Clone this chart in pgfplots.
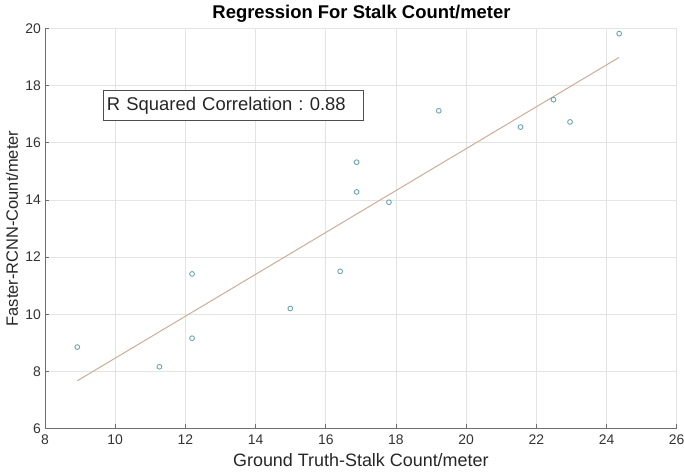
\documentclass[border=0pt]{standalone}
\usepackage{pgfplots}
\pgfplotsset{compat=1.18}
\usepackage{fontspec}
\setmainfont{Liberation Sans}
\definecolor{markcol}{RGB}{110,165,175}
\definecolor{fitcol}{RGB}{205,172,152}
\definecolor{gridcol}{RGB}{228,228,228}
\definecolor{axcol}{RGB}{110,110,110}

\begin{document}
\frenchspacing
\begin{tikzpicture}[x=1bp,y=1bp]
\useasboundingbox (-45,-44.5) rectangle (639,428.5);
\begin{axis}[
    at={(0,0)}, anchor=south west,
    width=631.7bp, height=400bp, scale only axis,
    xmin=8, xmax=26, ymin=6, ymax=20,
    xtick={8,10,...,26}, ytick={6,8,...,20},
    axis x line=bottom, axis y line=left,
    axis line style={-, draw=axcol, line width=0.8pt},
    tick align=inside, major tick length=4bp,
    tick style={axcol, line width=0.6pt},
    grid=major, major grid style={gridcol, line width=0.6pt},
    /pgf/number format/assume math mode=true,
    tick label style={font=\fontsize{14}{14}\selectfont, black!80},
    y tick label style={inner sep=0pt, xshift=-4bp},
    x tick label style={inner sep=0pt, yshift=-6bp},
    title={\bfseries Regression For Stalk Count/meter},
    title style={at={(axis description cs:0.501,1.01)}, anchor=base,
        font=\fontsize{18.5}{18.5}\selectfont, inner sep=0pt},
    xlabel={Ground Truth-Stalk Count/meter},
    xlabel style={at={(axis description cs:0.5,-0.095)}, anchor=base,
        font=\fontsize{18}{18}\selectfont, inner sep=0pt, black!85},
    ylabel={Faster-RCNN-Count/meter},
    ylabel style={at={(axis description cs:-0.0522,0.5)}, anchor=center,
        font=\fontsize{16.5}{16.5}\selectfont, inner sep=0pt, black!85},
]
% fitted line
\addplot[fitcol, line width=1pt] coordinates {(8.92,7.67) (24.36,18.99)};
% observations
\addplot[only marks, mark=o, mark size=2.4bp, markcol, mark options={line width=0.9pt}]
coordinates {
(8.92,8.85) (11.26,8.16) (12.19,11.41) (12.19,9.16) (14.99,10.20)
(16.41,11.50) (16.88,15.32) (16.88,14.28) (17.80,13.92) (19.22,17.12)
(21.55,16.55) (22.49,17.51) (22.96,16.73) (24.36,19.82)
};
\node[draw=black!70, fill=white, line width=0.8pt, anchor=north west,
      minimum height=30bp, text width=252bp, inner xsep=4bp, align=left,
      font=\fontsize{18.5}{18.5}\selectfont, text=black!85]
  at (axis cs:9.64,17.85) {R Squared Correlation : 0.88};
\end{axis}
\end{tikzpicture}
\end{document}
